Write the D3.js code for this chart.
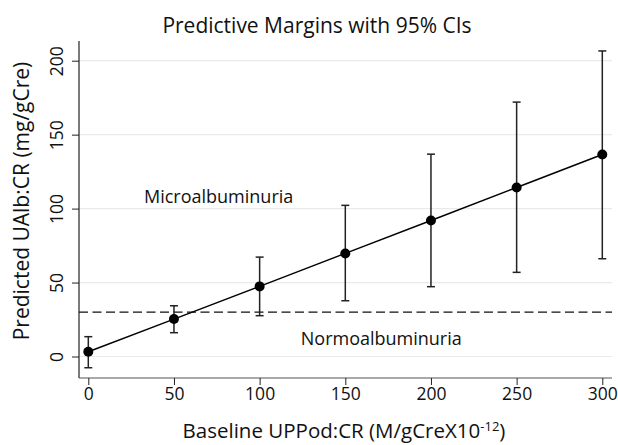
<!DOCTYPE html>
<html><head><meta charset="utf-8">
<script src="https://cdn.jsdelivr.net/npm/d3@7"></script>
<style>body{margin:0;background:#fff}svg{display:block}text{font-family:"Open Sans",sans-serif;fill:#111}</style>
</head><body><svg id="c" width="618" height="445"></svg>
<script>
const xVals = [0, 50, 100, 150, 200, 250, 300];
const margins = [3.2, 25.3, 47.4, 69.7, 92.0, 114.3, 136.6];
const lowerCI = [-7.6, 16.1, 27.6, 37.7, 47.2, 56.9, 66.1];
const upperCI = [13.4, 34.3, 67.2, 102.2, 136.8, 172.0, 206.6];
const xTicks = [0, 50, 100, 150, 200, 250, 300];
const yTicks = [0, 50, 100, 150, 200];
const threshold = 30;
const titleText = "Predictive Margins with 95% CIs";
const yLabel = "Predicted UAlb:CR (mg/gCre)";
const xLabelMain = "Baseline UPPod:CR (M/gCreX10";
const xLabelSup = "-12";
const xLabelEnd = ")";
const regionLabels = [{text:"Microalbuminuria", x:32.5, y:104}, {text:"Normoalbuminuria", x:124, y:7.5}];

const svg = d3.select("#c");
const pL = 79, pR = 612, pT = 41, pB = 378;
const x = d3.scaleLinear().domain([0, 300]).range([88.3, 602.3]);
const y = d3.scaleLinear().domain([0, 200]).range([356.5, 60.7]);

// gridlines
svg.append("g").selectAll("line").data(yTicks).join("line")
  .attr("x1", pL).attr("x2", pR).attr("y1", d => y(d)).attr("y2", d => y(d))
  .attr("stroke", "#eaeaea").attr("stroke-width", 1.2);

// axes
const yAxis = svg.append("g").attr("transform", `translate(${pL},0)`)
  .call(d3.axisLeft(y).tickValues(yTicks).tickSize(7).tickPadding(0).tickFormat(d3.format("d")));
yAxis.select(".domain").attr("d", `M0,${pT}V${pB}`).attr("stroke", "#222").attr("stroke-width", 1.2);
yAxis.selectAll(".tick line").attr("stroke", "#222");
yAxis.selectAll(".tick text").attr("transform", "rotate(-90)").attr("x", 0).attr("y", -16)
  .attr("dy", "0").attr("text-anchor", "middle").style("font-size", "17.5px").attr("fill", "#111");

const xAxis = svg.append("g").attr("transform", `translate(0,${pB})`)
  .call(d3.axisBottom(x).tickValues(xTicks).tickSize(7).tickPadding(3).tickFormat(d3.format("d")));
xAxis.select(".domain").attr("d", `M${pL},0H${pR}`).attr("stroke", "#555").attr("stroke-width", 1.2);
xAxis.selectAll(".tick line").attr("stroke", "#222");
xAxis.selectAll(".tick text").style("font-size", "17.5px").attr("fill", "#111");
svg.selectAll(".domain").attr("fill", "none");

// threshold dashed line
svg.append("line").attr("x1", pL).attr("x2", pR)
  .attr("y1", y(threshold)).attr("y2", y(threshold))
  .attr("stroke", "#111").attr("stroke-width", 1.4).attr("stroke-dasharray", "9,4.5");

// region labels
svg.append("g").selectAll("text").data(regionLabels).join("text")
  .attr("x", d => x(d.x)).attr("y", d => y(d.y))
  .style("font-size", "18px").text(d => d.text);

const data = xVals.map((v, i) => ({x: v, m: margins[i], lo: lowerCI[i], hi: upperCI[i]}));

// error bars
const eb = svg.append("g").attr("stroke", "#222").attr("stroke-width", 1.5);
eb.selectAll(".v").data(data).join("line")
  .attr("x1", d => x(d.x)).attr("x2", d => x(d.x)).attr("y1", d => y(d.lo)).attr("y2", d => y(d.hi));
eb.selectAll(".ct").data(data).join("line")
  .attr("x1", d => x(d.x) - 4).attr("x2", d => x(d.x) + 4).attr("y1", d => y(d.hi)).attr("y2", d => y(d.hi));
eb.selectAll(".cb").data(data).join("line")
  .attr("x1", d => x(d.x) - 4).attr("x2", d => x(d.x) + 4).attr("y1", d => y(d.lo)).attr("y2", d => y(d.lo));

// line
svg.append("path").datum(data)
  .attr("d", d3.line().x(d => x(d.x)).y(d => y(d.m)))
  .attr("fill", "none").attr("stroke", "#000").attr("stroke-width", 1.5);

// points
svg.append("g").selectAll("circle").data(data).join("circle")
  .attr("cx", d => x(d.x)).attr("cy", d => y(d.m)).attr("r", 5).attr("fill", "#000");

// title
svg.append("text").attr("x", 317).attr("y", 33).attr("text-anchor", "middle")
  .style("font-size", "21px").text(titleText);

// y label
svg.append("text").attr("transform", `translate(28.5,201) rotate(-90)`)
  .attr("text-anchor", "middle").style("font-size", "21px").text(yLabel);

// x label
const xl = svg.append("text").attr("x", 344).attr("y", 437.5)
  .attr("text-anchor", "middle").style("font-size", "20.5px");
xl.append("tspan").text(xLabelMain);
xl.append("tspan").attr("dy", -7).style("font-size", "13px").text(xLabelSup);
xl.append("tspan").attr("dy", 7).text(xLabelEnd);
</script></body></html>
